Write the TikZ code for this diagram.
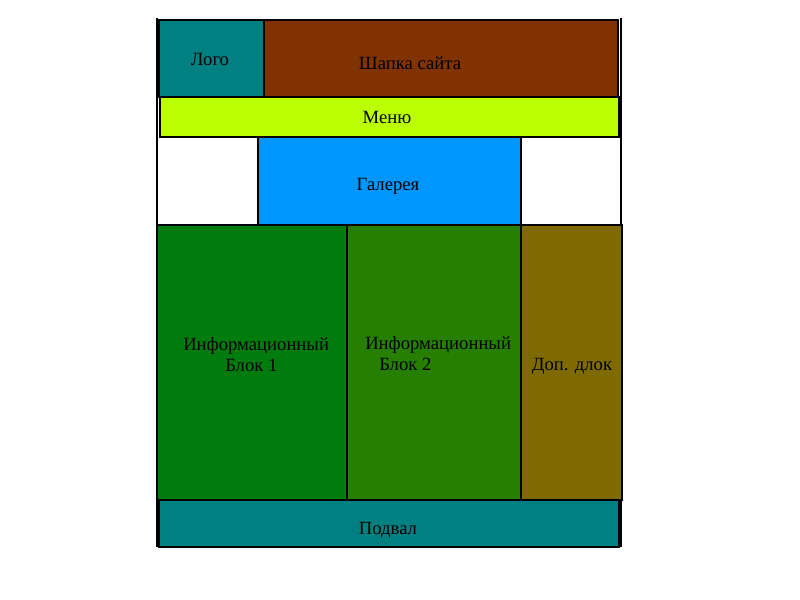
\documentclass[tikz,border=0pt]{standalone}
\usepackage{fontspec}
\setmainfont{Liberation Serif}
\definecolor{teal1}{RGB}{0,128,128}
\definecolor{shapka}{RGB}{128,51,0}
\definecolor{menu}{RGB}{187,255,0}
\definecolor{galer}{RGB}{0,150,255}
\definecolor{info1}{RGB}{0,123,14}
\definecolor{info2}{RGB}{38,127,0}
\definecolor{dop}{RGB}{127,106,0}
\begin{document}
\begin{tikzpicture}[x=0.75pt,y=-0.75pt,
	blok/.style={rectangle,draw,line width=1.5pt,inner sep=0pt},
	txt/.style={font=\fontsize{14}{15.75}\selectfont,inner sep=0pt}]
	\useasboundingbox (0,0) rectangle (800,600);
	% side lines
	\draw [line width=1.5pt] (157,18) -- (157,547);
	\draw [line width=1.5pt] (621,18) -- (621,547);
	% boxes
	\node (logo) [blok,fill=teal1,minimum width=78.75pt,minimum height=57.75pt] at (211.5,58.5) {};
	\node (head) [blok,fill=shapka,minimum width=265.5pt,minimum height=57.75pt] at (441,58.5) {};
	\node (menu) [blok,fill=menu,minimum width=344.25pt,minimum height=30pt] at (389.5,117) {};
	\node (gal) [blok,fill=galer,minimum width=197.25pt,minimum height=66pt] at (389.5,181) {};
	\node (inf1) [blok,fill=info1,minimum width=142.5pt,minimum height=206.25pt] at (252,362.5) {};
	\node (inf2) [blok,fill=info2,minimum width=130.5pt,minimum height=206.25pt] at (434,362.5) {};
	\node (dop) [blok,fill=dop,minimum width=75.75pt,minimum height=206.25pt] at (571.5,362.5) {};
	\node (foot) [blok,fill=teal1,minimum width=345pt,minimum height=35.25pt] at (389,523.5) {};
	% texts
	\node (tlogo) [txt] at (210,59) {Лого};
	\node (thead) [txt] at (410,63) {Шапка сайта};
	\node (tmenu) [txt] at (387,117) {Меню};
	\node (tgal) [txt] at (388,186.5) {Галерея};
	\node (tinf1) [txt,align=left,anchor=west] at (183,355) {Информационный\\\hspace{31.5pt}Блок 1};
	\node (tinf2) [txt,align=left,anchor=west] at (365,354) {Информационный\\\hspace{10.5pt}Блок 2};
	\node (tdop) [txt] at (572,366.5) {Доп. длок};
	\node (tfoot) [txt] at (388,530.5) {Подвал};
\end{tikzpicture}
\end{document}
